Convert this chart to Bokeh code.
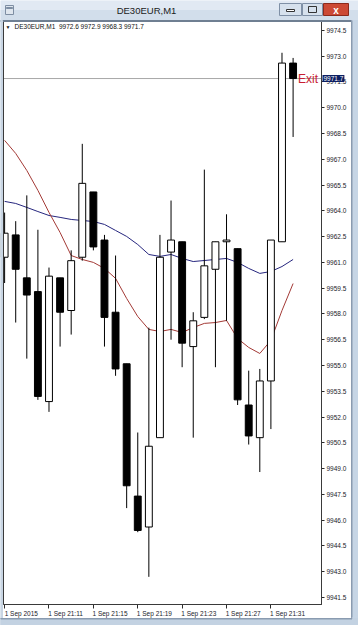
from bokeh.plotting import figure
from bokeh.models import (Range1d, LinearAxis, FixedTicker, BoxAnnotation, Label,
                          ColumnDataSource, PrintfTickFormatter)
from bokeh.embed import file_html
from bokeh.resources import INLINE

symbol = "DE30EUR,M1"
info_text = "DE30EUR,M1\u00a0\u00a09972.6 9972.9 9968.3 9971.7"

opens  = [9961.3, 9962.6, 9960.1, 9959.3, 9952.9, 9960.1, 9958.2, 9961.3, 9965.1, 9962.3,
          9958.1, 9955.1, 9947.4, 9945.6, 9950.8, 9961.6, 9962.2, 9956.1, 9957.8, 9960.6,
          9962.2, 9961.8, 9952.7, 9950.8, 9954.1, 9962.2, 9972.6]
highs  = [9963.9, 9963.4, 9964.9, 9962.9, 9960.7, 9960.1, 9961.7, 9967.9, 9965.1, 9962.6,
          9961.4, 9955.1, 9951.1, 9957.2, 9962.6, 9964.6, 9962.2, 9958.1, 9966.4, 9962.2,
          9963.8, 9961.8, 9954.7, 9954.8, 9962.3, 9973.2, 9972.9]
lows   = [9959.8, 9957.5, 9955.4, 9953.0, 9952.3, 9956.1, 9956.8, 9961.1, 9961.7, 9956.1,
          9954.4, 9946.7, 9945.3, 9942.7, 9950.8, 9956.5, 9954.9, 9950.8, 9957.7, 9954.9,
          9957.6, 9952.7, 9950.4, 9948.8, 9951.3, 9962.2, 9968.3]
closes = [9962.7, 9960.6, 9959.1, 9953.2, 9960.2, 9958.1, 9961.1, 9965.6, 9961.9, 9957.8,
          9954.8, 9948.0, 9945.4, 9950.3, 9961.3, 9962.3, 9956.3, 9957.6, 9960.8, 9962.2,
          9962.3, 9953.0, 9950.9, 9954.1, 9962.3, 9972.6, 9971.7]

ma_blue = [9964.55, 9964.43, 9964.20, 9963.96, 9963.73, 9963.62, 9963.50, 9963.44, 9963.38,
           9963.21, 9962.86, 9962.51, 9962.04, 9961.46, 9961.35, 9961.46, 9961.23, 9961.05,
           9961.11, 9961.17, 9961.23, 9961.00, 9960.65, 9960.36, 9960.47, 9960.76, 9961.17]
ma_red  = [9968.10, 9967.34, 9966.35, 9965.19, 9963.91, 9962.74, 9961.40, 9961.17, 9961.00,
           9960.65, 9960.07, 9958.90, 9957.85, 9957.10, 9956.98, 9957.10, 9956.92, 9957.21,
           9957.45, 9957.50, 9957.62, 9956.57, 9956.05, 9955.70, 9956.46, 9958.20, 9959.77]

y_ticks = [9941.5, 9943.0, 9944.5, 9946.0, 9947.5, 9949.0, 9950.5, 9952.0, 9953.5, 9955.0,
           9956.5, 9958.0, 9959.5, 9961.0, 9962.5, 9964.0, 9965.5, 9967.0, 9968.5, 9970.0,
           9971.5, 9973.0, 9974.5]
x_tick_idx = [0, 4, 8, 12, 16, 20, 24]
x_tick_labels = ["1 Sep 2015", "1 Sep 21:11", "1 Sep 21:15", "1 Sep 21:19",
                 "1 Sep 21:23", "1 Sep 21:27", "1 Sep 21:31"]
last_price = closes[-1]

# ---- layout: window size, plot-area pixel box and its visible data window ----
W, H = 358, 625
PX_L, PX_R, PX_T, PX_B = 3, 321, 21, 604
X0, X1 = -0.1, 28.56
Y0, Y1 = 9941.09, 9975.02
sx = (X1 - X0) / (PX_R - PX_L)
sy = (Y1 - Y0) / (PX_B - PX_T)

idx = list(range(len(opens)))
src = ColumnDataSource(dict(
    x=idx, o=opens, h=highs, l=lows, c=closes,
    top=[max(a, b) for a, b in zip(opens, closes)],
    bot=[min(a, b) for a, b in zip(opens, closes)],
    fill=["white" if c >= o else "black" for o, c in zip(opens, closes)],
))

FONT = "Liberation Sans"
p = figure(width=W, height=H, output_backend="svg", toolbar_location=None,
           x_range=Range1d(X0 - PX_L * sx, X1 + (W - PX_R) * sx),
           y_range=Range1d(Y0 - (H - PX_B) * sy, Y1 + PX_T * sy),
           x_axis_location=None, y_axis_location=None, min_border=0)
p.grid.visible = False
p.background_fill_color = "white"
p.border_fill_color = "white"
p.outline_line_color = None

# right price axis (fixed at the right edge of the plot area)
yax = LinearAxis(ticker=FixedTicker(ticks=y_ticks), formatter=PrintfTickFormatter(format="%.1f"),
                 fixed_location=X1, bounds=(Y0, Y1))
yax.major_tick_out = 3
yax.major_tick_in = 0
yax.minor_tick_out = 0
yax.minor_tick_in = 0
yax.axis_line_color = "#2a2a2a"
yax.major_tick_line_color = "#2a2a2a"
yax.major_label_text_font = FONT
yax.major_label_text_font_size = "6.5px"
yax.major_label_text_color = "#1a1a2a"
yax.major_label_standoff = 2
p.add_layout(yax, "right")

# bottom time axis: ticks at candle positions (minor), labels to the right (major)
label_pos = [t + 1.5 for t in x_tick_idx]
xax = LinearAxis(ticker=FixedTicker(ticks=label_pos, minor_ticks=x_tick_idx),
                 major_label_overrides={lp: lab for lp, lab in zip(label_pos, x_tick_labels)},
                 fixed_location=Y0, bounds=(X0, X1))
xax.major_tick_out = 0
xax.major_tick_in = 0
xax.major_tick_line_color = None
xax.minor_tick_out = 4
xax.minor_tick_in = 0
xax.minor_tick_line_color = "#2a2a2a"
xax.axis_line_color = "#2a2a2a"
xax.major_label_text_font = FONT
xax.major_label_text_font_size = "6.5px"
xax.major_label_text_color = "#1a1a2a"
xax.major_label_standoff = 1
p.add_layout(xax, "below")

# current price line
p.segment(x0=[X0], x1=[X1], y0=[last_price], y1=[last_price], line_color="#a8a8a8", line_width=1)

# moving averages
p.line(idx, ma_blue, line_color="#26267e", line_width=1)
p.line(idx, ma_red, line_color="#a33a36", line_width=1)

# candles
p.segment(x0="x", y0="l", x1="x", y1="h", source=src, line_color="black", line_width=1)
p.vbar(x="x", width=0.62, top="top", bottom="bot", source=src,
       fill_color="fill", line_color="black", line_width=1)

# plot area border (top / left)
p.add_layout(BoxAnnotation(left=X0, right=X1, top=Y1, bottom=Y0, fill_alpha=0,
                           line_color="#3a3a3a", line_alpha=1, line_width=1, line_dash="solid"))

# Exit label
p.add_layout(Label(x=idx[-1], y=last_price, x_offset=5, text="Exit", text_color="#c81e32",
                   text_font=FONT, text_font_size="12px", text_baseline="alphabetic"))


def cbox(l, t, r, b, fill, line=None):
    p.add_layout(BoxAnnotation(left=l, right=r, top=t, bottom=b,
                               left_units="canvas", right_units="canvas",
                               top_units="canvas", bottom_units="canvas",
                               fill_color=fill, fill_alpha=1,
                               line_color=line if line else fill, line_alpha=1, line_width=1,
                               line_dash="solid"))


def clabel(x, y, text, size, color, align="left", bold=False):
    p.add_layout(Label(x=x, y=y, x_units="canvas", y_units="canvas", text=text,
                       text_font=FONT, text_font_size=size, text_color=color,
                       text_align=align, text_baseline="middle",
                       text_font_style="bold" if bold else "normal"))


# price tag on the axis
p.add_layout(Label(x=PX_R + 1, y=last_price, x_units="canvas", text="9971.7", text_font=FONT,
                   text_font_size="6.5px", text_color="white", text_baseline="middle",
                   background_fill_color="#0d1f63", padding=1))

# window chrome
cbox(0, 0, W, 10, "#e1e9f3")
cbox(0, 10, W, 20, "#d2deeb")
cbox(0, 20, W, 21, "#6f7f92")
cbox(0, 20, 2, H, "#c8d5e3")
cbox(351, 20, W, H, "#c6d5e5")
cbox(351, 20, 351.5, 617, "#8a9bb0")
cbox(0, 618, W, H, "#c3d2e2")
cbox(0, 618, 351.5, 618.5, "#8a9bb0")
cbox(5, 5, 13, 14, "#dfe6ee", "#7e8ea3")
cbox(6, 7, 12, 8, "#7e8ea3")
clabel(146, 10, symbol, "9.5px", "#1b1b1b", align="center")
cbox(279, 3, 301, 15, "#d6e1ed", "#7f90a6")
cbox(302, 3, 322, 15, "#d6e1ed", "#7f90a6")
cbox(323, 3, 348, 15, "#cc4a35", "#8b2a1c")
cbox(286, 9, 294, 11, "white", "#333333")
cbox(308, 6, 316, 12, "#d6e1ed", "#333333")
clabel(335.5, 9.5, "x", "10px", "white", align="center", bold=True)

# info line inside chart
clabel(5, 26, "\u25bc", "5px", "#111111")
clabel(14, 26, info_text, "6.5px", "#111111")

open("out.html", "w").write(file_html(p, INLINE))
